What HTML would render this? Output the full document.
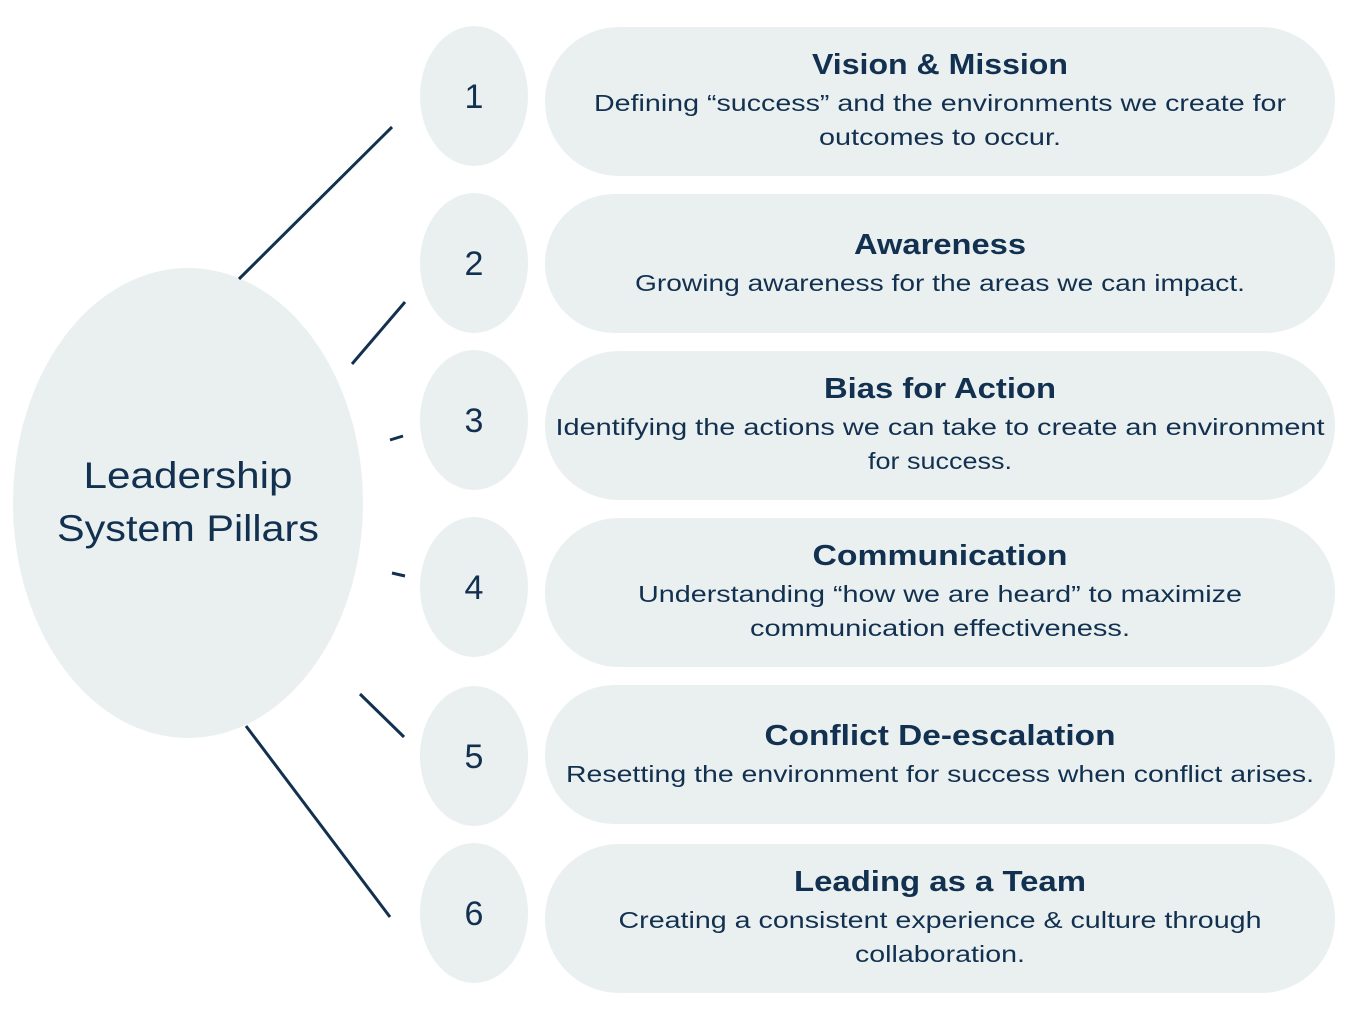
<!DOCTYPE html>
<html><head><meta charset="utf-8"><style>
html,body{margin:0;padding:0;background:#fff;}
svg{display:block;}
text{font-family:"Liberation Sans",sans-serif;fill:#12304f;}
.t{font-weight:bold;font-size:29px;}
.d{font-size:23px;}
.n{font-size:34px;}
</style></head><body>
<svg width="1345" height="1010" viewBox="0 0 1345 1010" xmlns="http://www.w3.org/2000/svg">
<g fill="#eaf0f0">
<ellipse cx="188" cy="503" rx="175" ry="235"/>
<ellipse cx="474" cy="96" rx="54" ry="70"/>
<ellipse cx="474" cy="263" rx="54" ry="70"/>
<ellipse cx="474" cy="420" rx="54" ry="70"/>
<ellipse cx="474" cy="587" rx="54" ry="70"/>
<ellipse cx="474" cy="756" rx="54" ry="70"/>
<ellipse cx="474" cy="913" rx="54" ry="70"/>
<rect x="545" y="27" width="790" height="149" rx="74"/>
<rect x="545" y="194" width="790" height="139" rx="69"/>
<rect x="545" y="351" width="790" height="149" rx="74"/>
<rect x="545" y="518" width="790" height="149" rx="74"/>
<rect x="545" y="685" width="790" height="139" rx="69"/>
<rect x="545" y="844" width="790" height="149" rx="74"/>
</g>
<g stroke="#12304f" stroke-width="3" fill="none">
<line x1="239" y1="279" x2="392" y2="127"/>
<line x1="352" y1="364" x2="405" y2="302"/>
<line x1="390" y1="440" x2="403" y2="436"/>
<line x1="392" y1="573" x2="405" y2="576"/>
<line x1="360" y1="694" x2="404" y2="737"/>
<line x1="246" y1="726" x2="390" y2="917"/>
</g>
<g text-anchor="middle" lengthAdjust="spacingAndGlyphs">
<text x="188" y="488" style="font-size:37px" textLength="209" lengthAdjust="spacingAndGlyphs">Leadership</text>
<text x="188" y="541" style="font-size:37px" textLength="262" lengthAdjust="spacingAndGlyphs">System Pillars</text>
<text class="n" x="474" y="108">1</text>
<text class="n" x="474" y="275">2</text>
<text class="n" x="474" y="432">3</text>
<text class="n" x="474" y="599">4</text>
<text class="n" x="474" y="768">5</text>
<text class="n" x="474" y="925">6</text>
<text class="t" x="940" y="74" textLength="256" lengthAdjust="spacingAndGlyphs">Vision &amp; Mission</text>
<text class="d" x="940" y="111" textLength="692" lengthAdjust="spacingAndGlyphs">Defining “success” and the environments we create for</text>
<text class="d" x="940" y="145" textLength="242" lengthAdjust="spacingAndGlyphs">outcomes to occur.</text>
<text class="t" x="940" y="254" textLength="172" lengthAdjust="spacingAndGlyphs">Awareness</text>
<text class="d" x="940" y="291" textLength="610" lengthAdjust="spacingAndGlyphs">Growing awareness for the areas we can impact.</text>
<text class="t" x="940" y="398" textLength="232" lengthAdjust="spacingAndGlyphs">Bias for Action</text>
<text class="d" x="940" y="435" textLength="769" lengthAdjust="spacingAndGlyphs">Identifying the actions we can take to create an environment</text>
<text class="d" x="940" y="469" textLength="144" lengthAdjust="spacingAndGlyphs">for success.</text>
<text class="t" x="940" y="565" textLength="255" lengthAdjust="spacingAndGlyphs">Communication</text>
<text class="d" x="940" y="602" textLength="604" lengthAdjust="spacingAndGlyphs">Understanding “how we are heard” to maximize</text>
<text class="d" x="940" y="636" textLength="380" lengthAdjust="spacingAndGlyphs">communication effectiveness.</text>
<text class="t" x="940" y="745" textLength="351" lengthAdjust="spacingAndGlyphs">Conflict De-escalation</text>
<text class="d" x="940" y="782" textLength="748" lengthAdjust="spacingAndGlyphs">Resetting the environment for success when conflict arises.</text>
<text class="t" x="940" y="891" textLength="292" lengthAdjust="spacingAndGlyphs">Leading as a Team</text>
<text class="d" x="940" y="928" textLength="643" lengthAdjust="spacingAndGlyphs">Creating a consistent experience &amp; culture through</text>
<text class="d" x="940" y="962" textLength="170" lengthAdjust="spacingAndGlyphs">collaboration.</text>
</g>
</svg>
</body></html>
